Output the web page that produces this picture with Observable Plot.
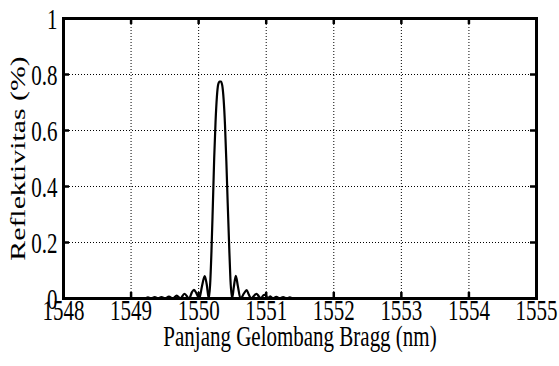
<!DOCTYPE html>
<html><head><meta charset="utf-8">
<script src="https://cdn.jsdelivr.net/npm/d3@7"></script>
<script src="https://cdn.jsdelivr.net/npm/@observablehq/plot@0.6"></script>
<style>html,body{margin:0;padding:0;background:#fff} svg{display:block} svg text{font-family:"Liberation Serif","Times New Roman",serif !important;}</style>
</head><body><div id="chart"></div>
<script>
// Wavelength (nm) and reflectivity
const wavelength = [1548.00, 1549.20, 1549.25, 1549.30, 1549.35, 1549.40, 1549.45, 1549.50, 1549.56, 1549.62,
  1549.675, 1549.73, 1549.79, 1549.86, 1549.90, 1549.93, 1549.96, 1550.01, 1550.05, 1550.09,
  1550.12, 1550.15, 1550.17, 1550.19, 1550.21, 1550.23, 1550.25, 1550.27, 1550.29, 1550.31,
  1550.33, 1550.35, 1550.37, 1550.39, 1550.41, 1550.43, 1550.45, 1550.47, 1550.495, 1550.52,
  1550.55, 1550.58, 1550.62, 1550.67, 1550.71, 1550.74, 1550.78, 1550.82, 1550.855, 1550.89,
  1550.92, 1550.96, 1550.99, 1551.02, 1551.06, 1551.10, 1551.15, 1551.20, 1551.25, 1551.30,
  1551.35, 1551.40, 1555.00];
const reflectivity = [0, 0, 0.004, 0, 0.005, 0, 0.005, 0, 0.007, 0,
  0.010, 0, 0.017, 0, 0.022, 0.031, 0.022, 0, 0.045, 0.080,
  0.050, 0, 0.05, 0.17, 0.33, 0.50, 0.63, 0.72, 0.765, 0.775,
  0.775, 0.76, 0.71, 0.62, 0.49, 0.34, 0.20, 0.07, 0, 0.04,
  0.081, 0.045, 0, 0.018, 0.030, 0.015, 0, 0.010, 0.017, 0.008,
  0, 0.012, 0.014, 0, 0.008, 0, 0.006, 0, 0.005, 0,
  0.004, 0, 0];
const xTicks = [1548, 1549, 1550, 1551, 1552, 1553, 1554, 1555];
const xTickLabels = ["1548", "1549", "1550", "1551", "1552", "1553", "1554", "1555"];
const yTicks = [0, 0.2, 0.4, 0.6, 0.8, 1];
const yTickLabels = ["0", "0.2", "0.4", "0.6", "0.8", "1"];
const xLabel = "Panjang Gelombang Bragg (nm)";
const yLabel = "Reflektivitas (%)";

const data = wavelength.map((w, i) => ({w, r: reflectivity[i]}));
const xInner = xTicks.slice(1, -1);
const yInner = yTicks.slice(1, -1);
const font = "Liberation Serif";

const chart = Plot.plot({
  width: 559, height: 366,
  marginLeft: 63, marginRight: 23, marginTop: 18, marginBottom: 68,
  x: {domain: [1548, 1555], axis: null},
  y: {domain: [0, 1], axis: null},
  style: {fontFamily: font, background: "#fff", color: "#000"},
  marks: [
    Plot.ruleX(xInner, {x: d => d, stroke: "#000", strokeWidth: 1, strokeDasharray: "1,2"}),
    Plot.ruleY(yInner, {y: d => d, stroke: "#000", strokeWidth: 1, strokeDasharray: "1,2"}),
    Plot.tickX(xInner, {x: d => d, stroke: "#000", strokeWidth: 2.5, insetTop: 274}),
    Plot.tickX(xInner, {x: d => d, stroke: "#000", strokeWidth: 2.5, insetBottom: 274}),
    Plot.tickY(yInner, {y: d => d, stroke: "#000", strokeWidth: 2.5, insetRight: 467}),
    Plot.tickY(yInner, {y: d => d, stroke: "#000", strokeWidth: 2.5, insetLeft: 467}),
    Plot.line(data, {x: "w", y: "r", stroke: "#000", strokeWidth: 2.2, curve: "monotone-x"}),
    Plot.frame({stroke: "#000", strokeWidth: 3}),
    Plot.text(xTicks, {x: d => d, text: (d, i) => xTickLabels[i], frameAnchor: "bottom", textAnchor: "middle", dy: 21.5, fontSize: 21, fontFamily: font, fill: "#000"}),
    Plot.text(yTicks, {y: d => d, text: (d, i) => yTickLabels[i], frameAnchor: "left", textAnchor: "end", dx: -6, dy: 1, fontSize: 21, fontFamily: font, fill: "#000"}),
    Plot.text([xLabel], {frameAnchor: "bottom", textAnchor: "middle", dy: 47, fontSize: 21, fontFamily: font, fill: "#000"}),
    Plot.text([yLabel], {frameAnchor: "left", textAnchor: "middle", rotate: -90, dx: -45, fontSize: 21, fontFamily: font, fill: "#000"})
  ]
});

// the reference's lettering is stretched vertically
chart.querySelectorAll("text").forEach(t => {
  const tr = t.getAttribute("transform") || "";
  t.setAttribute("transform", tr + (tr.includes("rotate") ? " scale(1.42,1)" : " scale(1,1.42)"));
});
document.getElementById("chart").appendChild(chart);
</script>
</body></html>
